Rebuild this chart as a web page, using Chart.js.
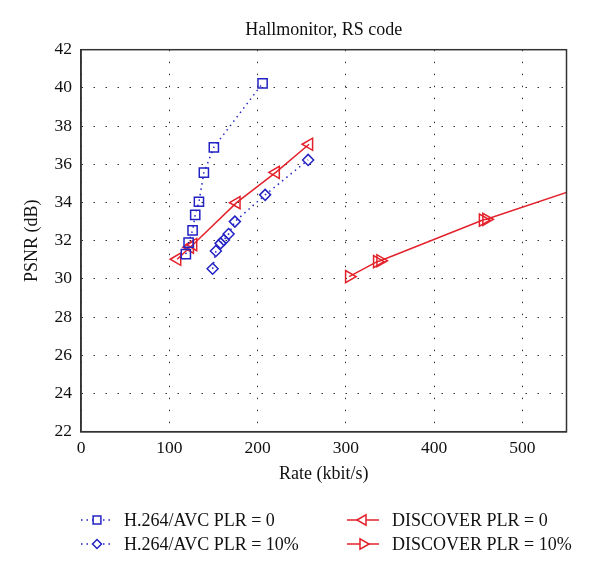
<!DOCTYPE html>
<html>
<head>
<meta charset="utf-8">
<script src="https://cdn.jsdelivr.net/npm/chart.js@4/dist/chart.umd.min.js"></script>
<style>
  html, body { margin: 0; padding: 0; background: #fff; }
  #wrap { width: 600px; height: 575px; }
</style>
</head>
<body>
<div id="wrap"><canvas id="myChart" width="600" height="575"></canvas></div>
<script>
// values (rate in kbit/s, PSNR in dB)
var h264Rate0 = [118.8, 121.9, 126.4, 129.4, 133.6, 139.2, 150.5, 205.7];
var h264Psnr0 = [31.3, 31.9, 32.54, 33.35, 34.04, 35.56, 36.89, 40.24];

var h264Rate10 = [149.1, 152.8, 158.1, 161.9, 167.2, 174.3, 208.6, 257.3];
var h264Psnr10 = [30.53, 31.46, 31.86, 32.04, 32.35, 33.0, 34.4, 36.23];

var discRate0 = [109.0, 123.4, 127.1, 176.2, 220.7, 258.4];
var discPsnr0 = [31.03, 31.66, 31.8, 33.99, 35.58, 37.05];

// last point lies past the right edge, only its line shows
var discRate10 = [303.7, 335.4, 339.2, 455.3, 459.2, 600];
var discPsnr10 = [30.12, 30.9, 30.95, 33.08, 33.12, 35.3];

var xTicks = [0, 100, 200, 300, 400, 500];
var yTicks = [22, 24, 26, 28, 30, 32, 34, 36, 38, 40, 42];

var labels = [
    'H.264/AVC PLR = 0',
    'H.264/AVC PLR = 10%',
    'DISCOVER PLR = 0',
    'DISCOVER PLR = 10%'
];

var BLUE = '#2222c4';
var RED = '#e3212b';
var FONT = '"Liberation Serif", "Times New Roman", serif';

function pts(xs, ys) {
    return xs.map(function (x, i) { return { x: x, y: ys[i] }; });
}

var styles = [
    { color: BLUE, dash: [1.5, 4], pointStyle: 'rect', rotation: 0, radius: 6.5 },
    { color: BLUE, dash: [1.5, 4], pointStyle: 'rectRot', rotation: 0, radius: 5.5 },
    { color: RED, dash: [], pointStyle: 'triangle', rotation: -90, radius: 7 },
    { color: RED, dash: [], pointStyle: 'triangle', rotation: 90, radius: 7 }
];

var series = [
    pts(h264Rate0, h264Psnr0),
    pts(h264Rate10, h264Psnr10),
    pts(discRate0, discPsnr0),
    pts(discRate10, discPsnr10)
];

var datasets = series.map(function (data, i) {
    var s = styles[i];
    return {
        label: labels[i],
        data: data,
        showLine: true,
        borderColor: s.color,
        backgroundColor: 'rgba(0,0,0,0)',
        borderWidth: 1.5,
        borderDash: s.dash,
        pointStyle: s.pointStyle,
        rotation: s.rotation,
        pointRadius: function (ctx) { return ctx.raw && ctx.raw.x > 550 ? 0 : s.radius; },
        pointBorderWidth: 1.5,
        pointBorderColor: s.color,
        pointBackgroundColor: 'rgba(0,0,0,0)',
        clip: 0
    };
});

// titles, frame and legend drawn by hand
var decor = {
    id: 'decor',
    afterDraw: function (chart) {
        var ctx = chart.ctx;
        var a = chart.chartArea;
        ctx.save();
        ctx.strokeStyle = '#333';
        ctx.lineWidth = 1.5;
        ctx.strokeRect(a.left, a.top, a.right - a.left, a.bottom - a.top);

        ctx.fillStyle = '#111';
        ctx.textAlign = 'center';
        ctx.textBaseline = 'middle';
        ctx.font = '18px ' + FONT;
        var cx = (a.left + a.right) / 2;
        ctx.fillText('Hallmonitor, RS code', cx, 30);
        ctx.fillText('Rate (kbit/s)', cx, 474);

        ctx.save();
        ctx.translate(32, (a.top + a.bottom) / 2);
        ctx.rotate(-Math.PI / 2);
        ctx.fillText('PSNR (dB)', 0, 0);
        ctx.restore();

        // legend, two columns
        var cols = [81, 347];
        var rows = [520, 544];
        ctx.textAlign = 'left';
        for (var i = 0; i < 4; i++) {
            var s = styles[i];
            var x0 = cols[Math.floor(i / 2)];
            var y = rows[i % 2];
            ctx.strokeStyle = s.color;
            ctx.lineWidth = 1.5;
            ctx.setLineDash(s.dash);
            ctx.beginPath();
            ctx.moveTo(x0, y);
            ctx.lineTo(x0 + 32, y);
            ctx.stroke();
            ctx.setLineDash([]);
            ctx.fillStyle = '#fff';
            Chart.helpers.drawPoint(ctx, {
                pointStyle: s.pointStyle,
                rotation: s.rotation,
                radius: s.radius - 1,
                borderWidth: 1.5
            }, x0 + 16, y);
            ctx.fillStyle = '#111';
            ctx.fillText(labels[i], x0 + (i < 2 ? 43 : 45), y + 1);
        }
        ctx.restore();
    }
};

var context = document.getElementById('myChart').getContext('2d');

new Chart(context, {
    type: 'scatter',
    data: { datasets: datasets },
    plugins: [decor],
    options: {
        responsive: false,
        animation: false,
        layout: { padding: { left: 0, right: 33.5, top: 49.7, bottom: 0 } },
        plugins: {
            legend: { display: false },
            title: { display: false },
            tooltip: { enabled: false }
        },
        scales: {
            x: {
                type: 'linear',
                min: 0,
                max: 550,
                afterFit: function (scale) { scale.height = 575 - 431.7; },
                afterBuildTicks: function (scale) {
                    scale.ticks = xTicks.map(function (v) { return { value: v }; });
                },
                ticks: { color: '#111', font: { family: FONT, size: 17.5 }, padding: 6, maxRotation: 0 },
                grid: { color: '#333', lineWidth: 1, drawTicks: false },
                border: { display: true, color: '#333', width: 1.5, dash: [1.5, 10.5] }
            },
            y: {
                type: 'linear',
                min: 22,
                max: 42,
                afterFit: function (scale) { scale.width = 81; },
                afterBuildTicks: function (scale) {
                    scale.ticks = yTicks.map(function (v) { return { value: v }; });
                },
                ticks: { color: '#111', font: { family: FONT, size: 17.5 }, padding: 9 },
                grid: { color: '#333', lineWidth: 1, drawTicks: false },
                border: { display: true, color: '#333', width: 1.5, dash: [1.5, 10.5] }
            }
        }
    }
});
</script>
</body>
</html>
